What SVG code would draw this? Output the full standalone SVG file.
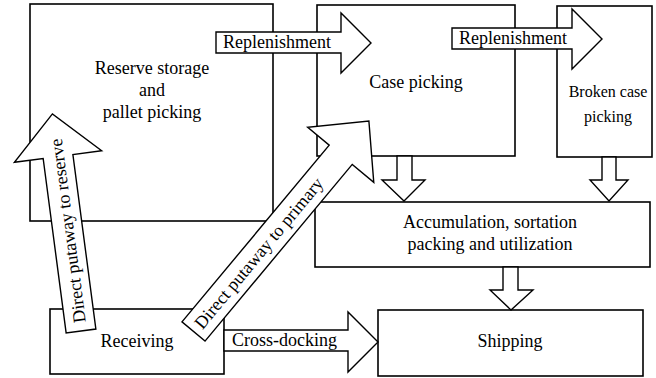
<svg xmlns="http://www.w3.org/2000/svg" width="656" height="378" viewBox="0 0 656 378">
<style>
.box{fill:#fff;stroke:#000;stroke-width:1.6}
.arr{fill:#fff;stroke:#000;stroke-width:1.4;stroke-linejoin:miter}
.t{font-family:"Liberation Serif","Times New Roman",serif;font-size:18px;fill:#000}
.s{font-size:16px}
.c{text-anchor:middle}
</style>
<rect width="656" height="378" fill="#fff"/>
<g id="reserve">
<rect class="box" x="30" y="4" width="243" height="217"/>
<text class="t c" x="152" y="74">Reserve storage</text>
<text class="t c" x="152" y="96">and</text>
<text class="t c" x="152" y="118">pallet picking</text>
</g>
<g id="case-picking">
<rect class="box" x="317" y="5" width="198" height="151"/>
<text class="t c" x="416" y="88">Case picking</text>
</g>
<g id="broken-case">
<rect class="box" x="557" y="6" width="95" height="151"/>
<text class="t s c" x="608" y="97">Broken case</text>
<text class="t s c" x="608" y="122">picking</text>
</g>
<g id="accumulation">
<rect class="box" x="315" y="202" width="335" height="65"/>
<text class="t c" x="490" y="228">Accumulation, sortation</text>
<text class="t c" x="490" y="250">packing and utilization</text>
</g>
<g id="receiving">
<rect class="box" x="50" y="309" width="174" height="65"/>
<text class="t c" x="137" y="347">Receiving</text>
</g>
<g id="shipping">
<rect class="box" x="378" y="310" width="265" height="66"/>
<text class="t c" x="510" y="347">Shipping</text>
</g>
<g id="connectors">
<g id="repl-1">
<polygon class="arr" points="216,32 341,32 341,13 371,43 341,73 341,53 216,53"/>
<text class="t" x="223" y="48">Replenishment</text>
</g>
<g id="repl-2">
<polygon class="arr" points="452,28 572,28 572,9 602,39 572,69 572,49 452,49"/>
<text class="t" x="459" y="44">Replenishment</text>
</g>
<polygon class="arr" points="397,156 412,156 412,180 425,180 404,201 382,180 397,180"/>
<polygon class="arr" points="602,157 616,157 616,180 628,180 609,201 590,180 602,180"/>
<polygon class="arr" points="503,267 518,267 518,290 533,290 511,310 490,290 503,290"/>
<g id="cross-docking">
<polygon class="arr" points="224,330 348,330 348,312 378,342 348,372 348,351 224,351"/>
<text class="t" x="232" y="346">Cross-docking</text>
</g>
<g id="putaway-reserve" transform="translate(81,331) rotate(-97.5)">
<polygon class="arr" points="0,-15 176,-15 176,-44 219,0 176,44 176,15 0,15"/>
<text class="t c" x="101" y="6">Direct putaway to reserve</text>
</g>
<g id="putaway-primary" transform="translate(193.5,331.5) rotate(-50.2)">
<polygon class="arr" points="0,-15 230,-15 230,-43 274,0 230,43 230,15 0,15"/>
<text class="t c" x="102" y="6">Direct putaway to primary</text>
</g>
</g>
</svg>
